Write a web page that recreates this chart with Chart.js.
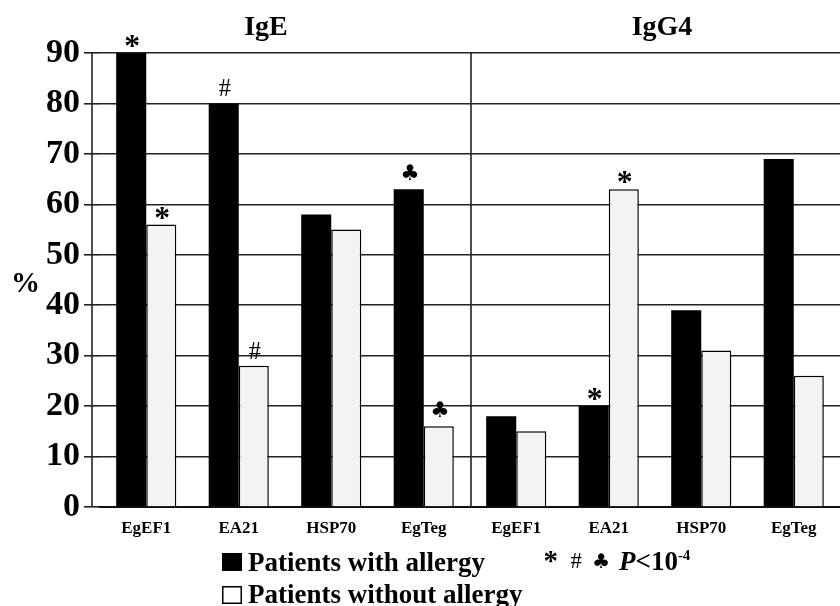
<!DOCTYPE html>
<html>
<head>
<meta charset="utf-8">
<script src="https://cdn.jsdelivr.net/npm/chart.js@4/dist/chart.umd.min.js"></script>
<style>
html,body{margin:0;padding:0;background:#fff;}
canvas{display:block;}
</style>
</head>
<body>
<canvas id="c" width="840" height="606"></canvas>
<script>
const categories = ['EgEF1','EA21','HSP70','EgTeg','EgEF1','EA21','HSP70','EgTeg'];
const withAllergy = [90, 80, 58, 63, 18, 20, 39, 69];
const withoutAllergy = [56, 28, 55, 16, 15, 63, 31, 26];
const withAllergyMarks = ['*','#','','\u2663','','*','',''];
const withoutAllergyMarks = ['*','#','','\u2663','','*','',''];
const groupTitles = ['IgE','IgG4'];
const seriesNames = ['Patients with allergy','Patients without allergy'];
const yMin = 0, yMax = 90, yStep = 10;

const SERIF = "'Liberation Serif','Times New Roman',serif";

function glyphFont(ch){ return ch === '\u2663' ? "'DejaVu Sans', sans-serif" : SERIF; }
const glyphHeight = {'*':12, '#':16, '\u2663':16};
const glyphGap = {'*':6, '#':7, '\u2663':9};

function drawGlyph(ctx, ch, cx, bottomY, h){
  const fam = glyphFont(ch);
  const weight = ch === '#' ? 'normal' : 'bold';
  ctx.font = weight + ' 100px ' + fam;
  let m = ctx.measureText(ch);
  const hh = m.actualBoundingBoxAscent + m.actualBoundingBoxDescent;
  const size = 100 * h / hh;
  ctx.font = weight + ' ' + size.toFixed(2) + 'px ' + fam;
  m = ctx.measureText(ch);
  ctx.textAlign = 'left';
  ctx.textBaseline = 'alphabetic';
  const w = m.actualBoundingBoxRight + m.actualBoundingBoxLeft;
  const x = cx - w/2 + m.actualBoundingBoxLeft;
  const y = bottomY - m.actualBoundingBoxDescent;
  ctx.fillText(ch, x, y);
  return w;
}

const marksPlugin = {
  id: 'marks',
  afterDatasetsDraw(chart){
    const ctx = chart.ctx;
    ctx.save();
    ctx.fillStyle = '#000';
    const markSets = [withAllergyMarks, withoutAllergyMarks];
    chart.data.datasets.forEach((ds, di) => {
      const meta = chart.getDatasetMeta(di);
      meta.data.forEach((bar, i) => {
        const ch = markSets[di][i];
        if (!ch) return;
        drawGlyph(ctx, ch, bar.x + 1, bar.y - glyphGap[ch], glyphHeight[ch]);
      });
    });
    ctx.restore();
  },
  afterDraw(chart){
    const ctx = chart.ctx;
    const ca = chart.chartArea;
    const xs = chart.scales.x;
    ctx.save();
    ctx.strokeStyle = '#222';
    ctx.lineWidth = 1.6;
    // y axis line
    ctx.beginPath();
    ctx.moveTo(92, ca.top);
    ctx.lineTo(92, ca.bottom);
    ctx.stroke();
    // divider between groups
    const dx = Math.round((xs.getPixelForValue(3) + xs.getPixelForValue(4)) / 2) + 1;
    ctx.beginPath();
    ctx.moveTo(dx, ca.top);
    ctx.lineTo(dx, ca.bottom);
    ctx.stroke();

    ctx.fillStyle = '#000';
    // group titles
    ctx.font = 'bold 28px ' + SERIF;
    ctx.textAlign = 'center';
    ctx.textBaseline = 'alphabetic';
    ctx.fillText(groupTitles[0], 266, 35);
    ctx.fillText(groupTitles[1], 662, 35);

    // % axis title
    ctx.font = 'bold 29px ' + SERIF;
    ctx.textAlign = 'left';
    ctx.fillText('%', 11, 292);

    // legend
    ctx.fillStyle = '#000';
    ctx.fillRect(222, 553, 20, 18);
    ctx.lineWidth = 1.5;
    ctx.strokeStyle = '#000';
    ctx.fillStyle = '#fff';
    ctx.fillRect(222.75, 586.75, 18.5, 16.5);
    ctx.strokeRect(222.75, 586.75, 18.5, 16.5);
    ctx.fillStyle = '#000';
    ctx.font = 'bold 27px ' + SERIF;
    ctx.textAlign = 'left';
    ctx.fillText(seriesNames[0], 248, 571);
    ctx.fillText(seriesNames[1], 248, 603);

    // significance note
    drawGlyph(ctx, '*', 551, 563, 11);
    drawGlyph(ctx, '#', 576, 568, 15);
    drawGlyph(ctx, '\u2663', 601, 568, 15);
    ctx.textAlign = 'left';
    ctx.textBaseline = 'alphabetic';
    ctx.font = 'italic bold 27px ' + SERIF;
    ctx.fillText('P', 619, 570);
    const pw = ctx.measureText('P').width;
    ctx.font = 'bold 27px ' + SERIF;
    ctx.fillText('<10', 619 + pw, 570);
    const lw = ctx.measureText('<10').width;
    ctx.font = 'bold 15px ' + SERIF;
    ctx.fillText('-4', 619 + pw + lw, 560);
    ctx.restore();
  }
};

new Chart(document.getElementById('c'), {
  type: 'bar',
  data: {
    labels: categories,
    datasets: [
      {
        label: seriesNames[0],
        data: withAllergy,
        backgroundColor: '#000',
        borderColor: '#000',
        borderWidth: 0,
        categoryPercentage: 0.65,
        barPercentage: 1.0
      },
      {
        label: seriesNames[1],
        data: withoutAllergy,
        backgroundColor: '#f3f3f3',
        borderColor: '#000',
        borderWidth: 1.5,
        categoryPercentage: 0.65,
        barPercentage: 1.0
      }
    ]
  },
  options: {
    responsive: false,
    animation: false,
    devicePixelRatio: 1,
    layout: { padding: { top: 53, left: 0, right: 0, bottom: 0 } },
    plugins: {
      legend: { display: false },
      tooltip: { enabled: false },
      title: { display: false }
    },
    scales: {
      x: {
        grid: { display: false },
        border: { display: true, color: '#111', width: 2 },
        ticks: {
          color: '#000',
          font: { family: SERIF, size: 17, weight: 'bold' },
          padding: 3,
          maxRotation: 0,
          autoSkip: false
        },
        afterFit(scale){ scale.height = 99; }
      },
      y: {
        min: yMin,
        max: yMax,
        grid: { color: '#222', lineWidth: 1.6, tickLength: 16, drawTicks: true },
        border: { display: false },
        ticks: {
          stepSize: yStep,
          color: '#000',
          font: { family: SERIF, size: 34, weight: 'bold' },
          padding: 4
        },
        afterFit(scale){ scale.width = 100; }
      }
    }
  },
  plugins: [marksPlugin]
});
</script>
</body>
</html>
